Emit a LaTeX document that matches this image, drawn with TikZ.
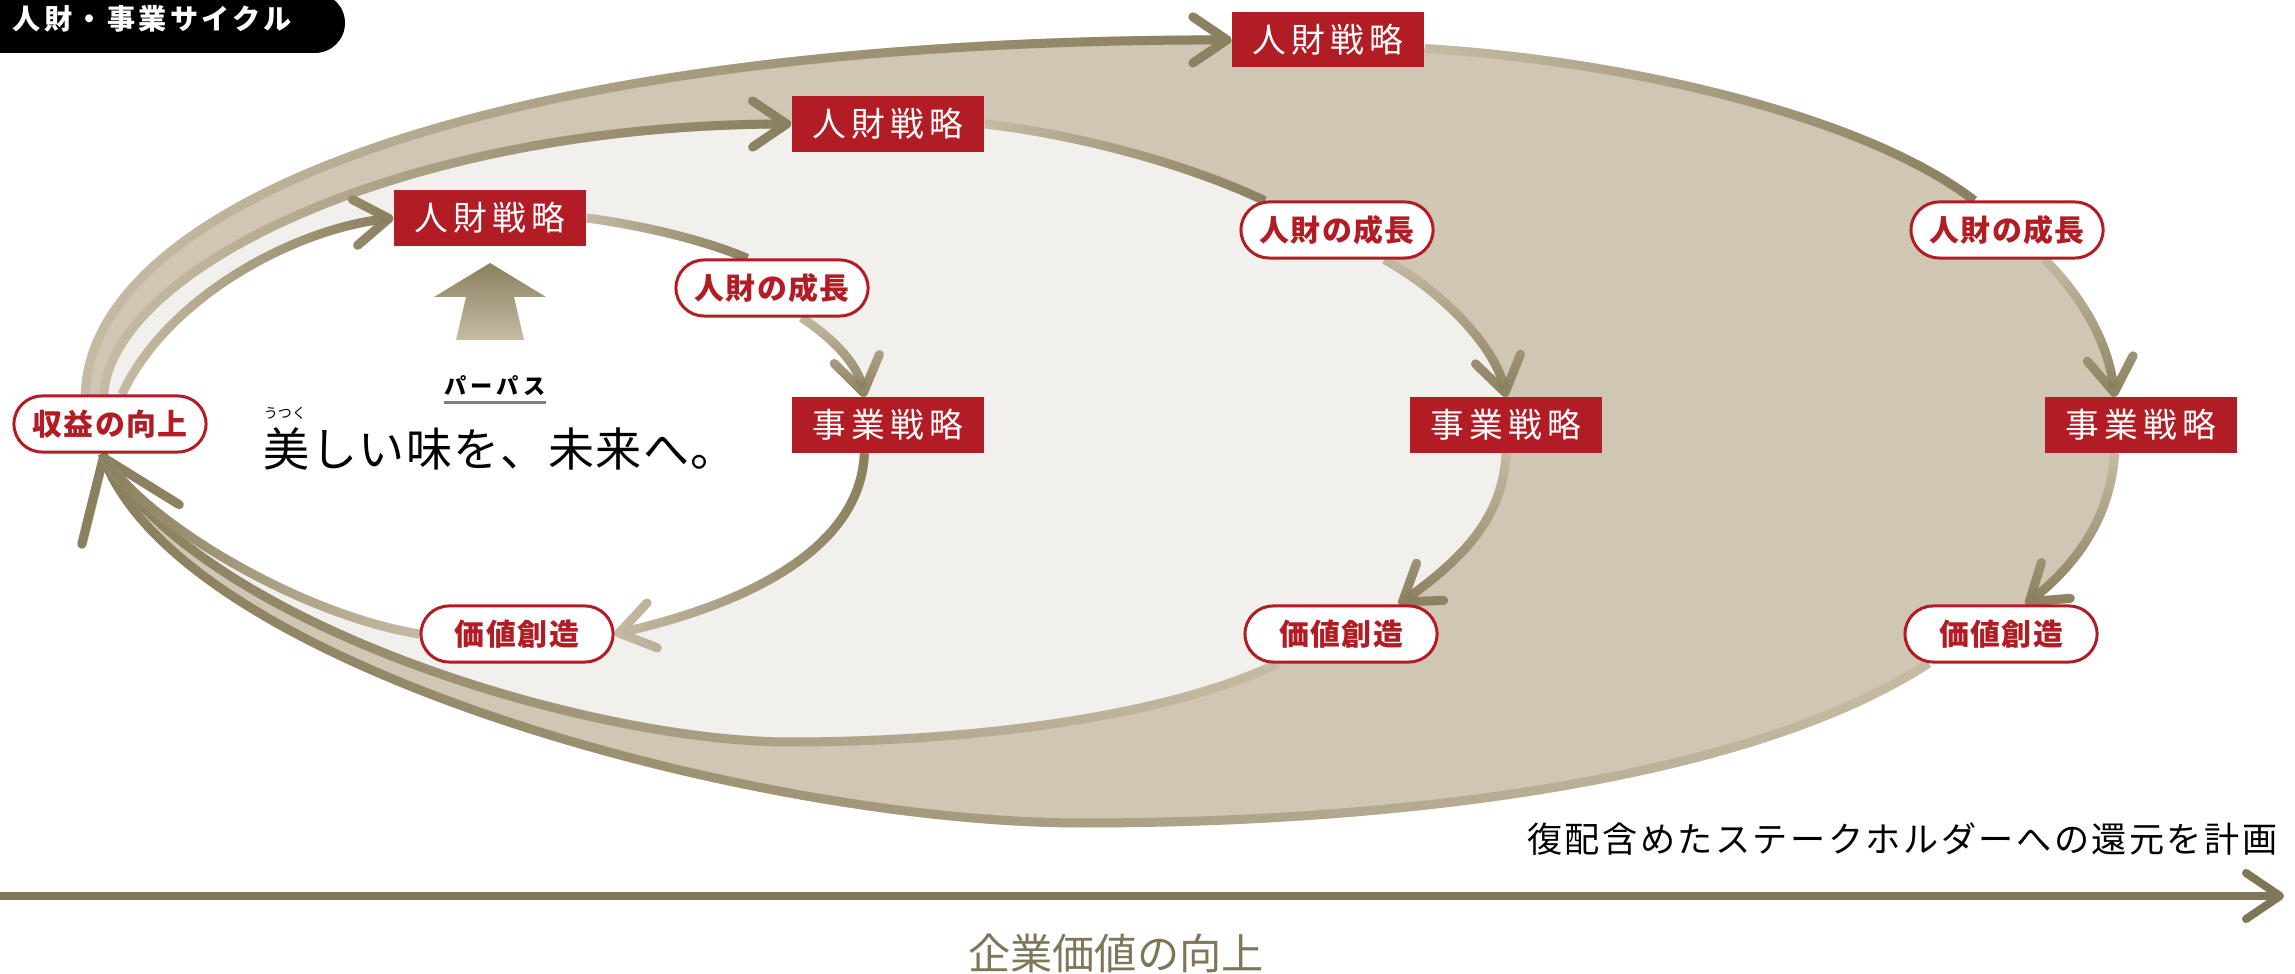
\documentclass[tikz,border=0pt]{standalone}
\usepackage{fontspec}
\usepackage{xcolor}
\usepackage{tikz}
\usetikzlibrary{arrows.meta,shapes.misc,backgrounds,fadings}

\newfontfamily\jp{Noto Sans CJK JP}
\newfontfamily\jpttl[LetterSpace=12]{Noto Sans CJK JP}
\newfontfamily\jppill[LetterSpace=5]{Noto Sans CJK JP}
\newfontfamily\jppp[LetterSpace=18]{Noto Sans CJK JP}
\newfontfamily\jpbox[LetterSpace=15]{Noto Sans CJK JP}
\newfontfamily\jplt[LetterSpace=7]{Noto Sans CJK JP}
\newfontfamily\tagfont[LetterSpace=3]{Noto Sans CJK JP}

\definecolor{cycred}{HTML}{B21C24}
\definecolor{olivedk}{HTML}{8A7F5E}
\definecolor{beigelt}{HTML}{C6BCA5}
\definecolor{fillout}{HTML}{CFC7B4}
\definecolor{fillmid}{HTML}{F1F0EC}
\definecolor{axisol}{HTML}{7E7659}

\tikzset{
  strat/.style={rectangle, fill=cycred, text=white, minimum width=1.92cm, minimum height=0.55cm,
    inner sep=0pt, font=\jpbox\fontsize{9.6pt}{10pt}\selectfont},
  pill/.style={rounded rectangle, draw=cycred, line width=0.03cm, fill=white, text=cycred,
    minimum width=1.92cm, minimum height=0.56cm, inner sep=0pt,
    font=\jppill\bfseries\fontsize{8.5pt}{9pt}\selectfont},
  cyc/.style={line width=0.09cm, draw=olivedk},
  chev/.style={-{Straight Barb[length=0.34cm,width=0.46cm,round]}},
  bigchev/.style={-{Straight Barb[length=0.72cm,width=1.05cm,round]}},
  titletxt/.style={text=white, inner sep=0pt, font=\jpttl\bfseries\fontsize{8pt}{9pt}\selectfont},
}

% light stroke, then a darker copy faded towards the light end
\newcommand{\cyclink}[3][]{%
  \draw[cyc,draw=beigelt,#1] #3;
  \draw[cyc,#1,path fading=#2] #3;}

\begin{document}
\begin{tikzpicture}[x=0.01cm, y=-0.01cm]
\useasboundingbox (0,0) rectangle (2295,974);

% title tab
\begin{scope}
  \clip (0,0) rectangle (2295,974);
  \fill[black, rounded corners=0.3cm] (-60,-7) rectangle (345,53);
\end{scope}
\node[titletxt, anchor=west] (ttl) at (12,19) {人財・事業サイクル};

% cycle nodes
\node[pill] (rev) at (110,424) {収益の向上};

\node[strat] (rA) at (490,218) {人財戦略};
\node[pill]  (gA) at (772,288) {人財の成長};
\node[strat] (bA) at (888,425) {事業戦略};
\node[pill]  (vA) at (517,634) {価値創造};

\node[strat] (rB) at (888,124) {人財戦略};
\node[pill]  (gB) at (1337,230) {人財の成長};
\node[strat] (bB) at (1506,425) {事業戦略};
\node[pill]  (vB) at (1341,634) {価値創造};

\node[strat] (rC) at (1328,40) {人財戦略};
\node[pill]  (gC) at (2007,230) {人財の成長};
\node[strat] (bC) at (2141,425) {事業戦略};
\node[pill]  (vC) at (2001,634) {価値創造};

\coordinate (mb) at (790,742);
\coordinate (ob) at (1083,823);

\begin{scope}[on background layer]
  % filled loops
  \fill[fillout] (rev.130) .. controls (90,210) and (470,40) .. (rC.west)
    -- (rC.-5) .. controls (1640,62) and (1870,120) .. (gC.138)
    -- (gC.-38) .. controls (2080,295) and (2108,340) .. (bC.133)
    -- (bC.-133) .. controls (2110,520) and (2075,565) .. (vC.50)
    -- (vC.-158) .. controls (1750,780) and (1400,823) .. (ob)
    .. controls (760,823) and (190,670) .. (rev.-105) -- cycle;
  \fill[fillmid] (rev.102) .. controls (112,270) and (400,125) .. (rB.west)
    -- (rB.east) .. controls (1080,135) and (1190,165) .. (gB.158)
    -- (gB.-32) .. controls (1440,290) and (1495,345) .. (bB.north)
    -- (bB.south) .. controls (1503,520) and (1460,560) .. (vB.27)
    -- (vB.-155) .. controls (1170,715) and (980,742) .. (mb)
    .. controls (590,742) and (200,625) .. (rev.-105) -- cycle;
  \fill[white] (rev.68) .. controls (165,300) and (290,230) .. (rA.west)
    -- (rA.east) .. controls (640,225) and (705,240) .. (gA.130)
    -- (gA.-45) .. controls (835,340) and (858,365) .. (bA.130)
    -- (bA.-130) .. controls (860,560) and (720,610) .. (vA.east)
    -- (vA.west) .. controls (300,615) and (140,520) .. (rev.-105) -- cycle;

  % outer cycle
  \cyclink[chev]{west}{(rev.130) .. controls (90,210) and (470,40) .. (rC.west)}
  \cyclink{west}{(rC.-5) .. controls (1640,62) and (1870,120) .. (gC.138)}
  \cyclink[chev]{north}{(gC.-38) .. controls (2080,295) and (2108,340) .. (bC.133)}
  \cyclink[chev]{north}{(bC.-133) .. controls (2110,520) and (2075,565) .. (vC.50)}
  \cyclink[bigchev]{east}{(vC.-158) .. controls (1750,780) and (1400,823) .. (ob)
    .. controls (760,823) and (190,670) .. (rev.-105)}

  % middle cycle
  \cyclink[chev]{west}{(rev.102) .. controls (112,270) and (400,125) .. (rB.west)}
  \cyclink{west}{(rB.east) .. controls (1080,135) and (1190,165) .. (gB.158)}
  \cyclink[chev]{north}{(gB.-32) .. controls (1440,290) and (1495,345) .. (bB.north)}
  \cyclink[chev]{north}{(bB.south) .. controls (1503,520) and (1460,560) .. (vB.27)}
  \cyclink{east}{(vB.-155) .. controls (1170,715) and (980,742) .. (mb)
    .. controls (590,742) and (200,625) .. (rev.-105)}

  % inner cycle
  \cyclink[chev]{west}{(rev.68) .. controls (165,300) and (290,230) .. (rA.west)}
  \cyclink{west}{(rA.east) .. controls (640,225) and (705,240) .. (gA.130)}
  \cyclink[chev]{north}{(gA.-45) .. controls (835,340) and (858,365) .. (bA.130)}
  \cyclink[chev]{west}{(bA.-130) .. controls (860,560) and (720,610) .. (vA.east)}
  \cyclink{east}{(vA.west) .. controls (300,615) and (140,520) .. (rev.-105)}
\end{scope}

% purpose
\shade[top color=olivedk, bottom color=beigelt] (490,263) -- (546,297) -- (514,297)
  -- (524,340) -- (456,340) -- (466,297) -- (434,297) -- cycle;
\node[inner sep=0pt, font=\jppp\bfseries\fontsize{6.3pt}{7pt}\selectfont] (pp) at (495,386) {パーパス};
\draw[black!50, line width=0.03cm] ([yshift=-1.5pt]pp.south west) -- ([yshift=-1.5pt]pp.south east);
\node[inner sep=0pt, font=\jp\fontsize{4pt}{5pt}\selectfont] (rb) at (285,413) {うつく};
\node[inner sep=0pt, anchor=west, font=\tagfont\fontsize{13.1pt}{14pt}\selectfont] (tagl) at (263,449) {美しい味を、未来へ。};

% value axis
\coordinate (ax0) at (0,896);
\coordinate (ax1) at (2284,896);
\draw[axisol, line width=0.08cm, -{Straight Barb[length=0.34cm,width=0.46cm,round]}] (ax0) -- (ax1);
\node[inner sep=0pt, anchor=east, font=\jplt\fontsize{10pt}{11pt}\selectfont] (plan) at (2278,839) {復配含めたステークホルダーへの還元を計画};
\node[inner sep=0pt, text=axisol, font=\jp\fontsize{12pt}{13pt}\selectfont] (goal) at (1116,953) {企業価値の向上};
\end{tikzpicture}
\end{document}
